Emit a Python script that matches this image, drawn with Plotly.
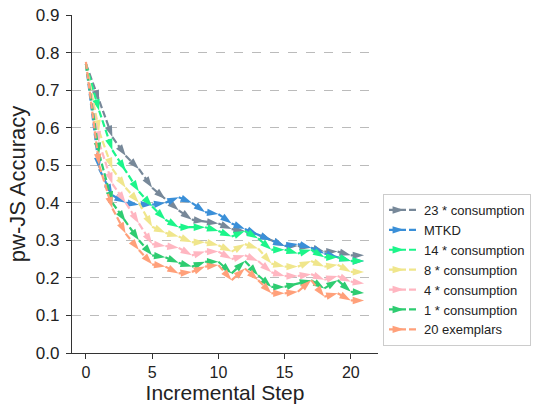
import plotly.graph_objects as go

steps = list(range(22))
series_names = ["23 * consumption", "MTKD", "14 * consumption", "8 * consumption",
                "4 * consumption", "1 * consumption", "20 exemplars"]
c23 = [0.77, 0.67, 0.575, 0.525, 0.49, 0.44, 0.41, 0.38, 0.355, 0.35, 0.345, 0.33, 0.325, 0.315, 0.30, 0.285, 0.285, 0.28, 0.27, 0.27, 0.26, 0.26]
mtkd = [0.77, 0.49, 0.42, 0.40, 0.395, 0.395, 0.40, 0.415, 0.40, 0.375, 0.37, 0.345, 0.33, 0.315, 0.30, 0.285, 0.29, 0.28, 0.265, 0.255, 0.245, 0.245]
c14 = [0.77, 0.645, 0.54, 0.485, 0.43, 0.39, 0.355, 0.335, 0.335, 0.335, 0.325, 0.31, 0.325, 0.305, 0.275, 0.275, 0.265, 0.275, 0.255, 0.255, 0.245, 0.245]
c8 = [0.77, 0.59, 0.49, 0.44, 0.40, 0.336, 0.32, 0.31, 0.295, 0.295, 0.287, 0.27, 0.29, 0.278, 0.238, 0.23, 0.23, 0.245, 0.23, 0.235, 0.216, 0.216]
c4 = [0.77, 0.56, 0.45, 0.40, 0.345, 0.29, 0.285, 0.28, 0.26, 0.27, 0.27, 0.25, 0.26, 0.245, 0.215, 0.205, 0.205, 0.21, 0.195, 0.205, 0.19, 0.185]
c1 = [0.77, 0.53, 0.40, 0.35, 0.30, 0.26, 0.255, 0.24, 0.23, 0.243, 0.243, 0.212, 0.245, 0.207, 0.176, 0.176, 0.185, 0.194, 0.172, 0.194, 0.163, 0.16]
ex20 = [0.775, 0.50, 0.385, 0.318, 0.274, 0.236, 0.23, 0.212, 0.216, 0.23, 0.234, 0.194, 0.225, 0.194, 0.159, 0.159, 0.163, 0.194, 0.15, 0.159, 0.14, 0.14]
colors = ["#778899", "#3a8fd8", "#1cf58a", "#f0e68c", "#ffb6c1", "#2ecc71", "#ffa07a"]
values = [c23, mtkd, c14, c8, c4, c1, ex20]

fig = go.Figure()
for name, vals, col in zip(series_names, values, colors):
    fig.add_trace(go.Scatter(
        x=steps, y=vals, name=name, mode="lines+markers",
        line=dict(color=col, width=2.2, dash="7px,3px"),
        marker=dict(symbol="arrow", angleref="previous", size=12, color=col),
    ))

font = "Liberation Sans, Arial, sans-serif"
fig.update_layout(
    width=534, height=404,
    margin=dict(l=72, r=156, t=15, b=51),
    paper_bgcolor="white", plot_bgcolor="white",
    font=dict(family=font, color="#222"),
    showlegend=True,
    legend=dict(xref="container", yref="container",
                x=383 / 534, y=58 / 404, xanchor="left", yanchor="bottom",
                bordercolor="#cccccc", borderwidth=1, bgcolor="white",
                font=dict(size=13, family=font), itemwidth=30,
                tracegroupgap=0),
    xaxis=dict(range=[-1.05, 22.05], tickvals=[0, 5, 10, 15, 20],
               showline=True, linecolor="#333", linewidth=1.2,
               ticks="outside", ticklen=5, tickcolor="#333",
               showgrid=False, zeroline=False, automargin=False,
               tickfont=dict(size=16),
               title=dict(text="Incremental Step", font=dict(size=21), standoff=0)),
    yaxis=dict(range=[0, 0.9], dtick=0.1, tickformat=".1f",
               showline=True, linecolor="#333", linewidth=1.2,
               ticks="outside", ticklen=5, tickcolor="#333", ticklabelstandoff=3,
               showgrid=True, gridcolor="#bbbbbb", griddash="dash", gridwidth=1,
               zeroline=False, automargin=False,
               tickfont=dict(size=17),
               title=dict(text="pw-JS Accuracy", font=dict(size=22), standoff=4)),
)
fig.write_html("out.html", config={"displayModeBar": False},
               post_script="document.body.style.margin='0';")
